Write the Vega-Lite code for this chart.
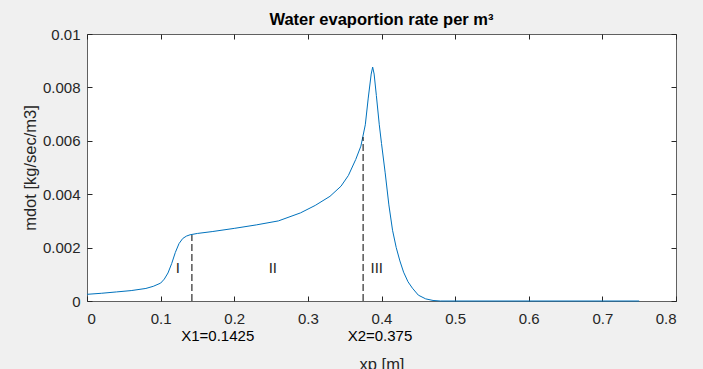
{
  "$schema": "https://vega.github.io/schema/vega-lite/v6.json",
  "autosize": "none",
  "width": 589,
  "height": 267,
  "padding": {"left": 87, "top": 34, "right": 27, "bottom": 68},
  "background": "#f0f0f0",
  "title": {"text": "Water evaportion rate per m³", "font": "Liberation Sans", "fontSize": 16.5, "fontWeight": "bold", "color": "#000000", "baseline": "bottom", "offset": -17, "anchor": "middle"},
  "config": {
    "view": {"fill": "#ffffff", "stroke": "#606060", "strokeWidth": 1},
    "axis": {"labelFont": "Liberation Sans", "titleFont": "Liberation Sans", "labelFontSize": 15, "titleFontSize": 16.5, "labelColor": "#262626", "titleColor": "#262626", "titleFontWeight": "normal", "tickColor": "#262626", "domain": false, "grid": false}
  },
  "datasets": {
    "curve": [
      {"xp": 0, "mdot": 0.00025},
      {"xp": 0.02, "mdot": 0.00029},
      {"xp": 0.04, "mdot": 0.00034},
      {"xp": 0.06, "mdot": 0.00039},
      {"xp": 0.08, "mdot": 0.00047},
      {"xp": 0.09, "mdot": 0.00055},
      {"xp": 0.1, "mdot": 0.00067},
      {"xp": 0.105, "mdot": 0.00082},
      {"xp": 0.11, "mdot": 0.00105},
      {"xp": 0.115, "mdot": 0.0014},
      {"xp": 0.12, "mdot": 0.00182},
      {"xp": 0.125, "mdot": 0.00215},
      {"xp": 0.13, "mdot": 0.00234},
      {"xp": 0.135, "mdot": 0.00243},
      {"xp": 0.14, "mdot": 0.00248},
      {"xp": 0.15, "mdot": 0.00253},
      {"xp": 0.17, "mdot": 0.0026},
      {"xp": 0.2, "mdot": 0.00272},
      {"xp": 0.23, "mdot": 0.00285},
      {"xp": 0.26, "mdot": 0.003},
      {"xp": 0.29, "mdot": 0.0033},
      {"xp": 0.31, "mdot": 0.00358},
      {"xp": 0.33, "mdot": 0.00392},
      {"xp": 0.345, "mdot": 0.0043},
      {"xp": 0.355, "mdot": 0.0047},
      {"xp": 0.365, "mdot": 0.0053},
      {"xp": 0.372, "mdot": 0.0058},
      {"xp": 0.378, "mdot": 0.0066},
      {"xp": 0.382, "mdot": 0.0076},
      {"xp": 0.386, "mdot": 0.0085},
      {"xp": 0.388, "mdot": 0.00876},
      {"xp": 0.39, "mdot": 0.0085},
      {"xp": 0.393, "mdot": 0.0077},
      {"xp": 0.397, "mdot": 0.0066},
      {"xp": 0.4, "mdot": 0.0059},
      {"xp": 0.405, "mdot": 0.0048},
      {"xp": 0.41, "mdot": 0.0036},
      {"xp": 0.415, "mdot": 0.00265},
      {"xp": 0.42, "mdot": 0.002},
      {"xp": 0.425, "mdot": 0.0015},
      {"xp": 0.43, "mdot": 0.00108},
      {"xp": 0.436, "mdot": 0.00072},
      {"xp": 0.442, "mdot": 0.00048},
      {"xp": 0.45, "mdot": 0.00022},
      {"xp": 0.46, "mdot": 0.00008},
      {"xp": 0.47, "mdot": 0.00002},
      {"xp": 0.48, "mdot": 0},
      {"xp": 0.75, "mdot": 0}
    ],
    "dashes": [
      {"xp": 0.1425, "y0": 0, "y1": 0.00247},
      {"xp": 0.375, "y0": 0, "y1": 0.00614}
    ],
    "regions": [
      {"xp": 0.1235, "mdot": 0.00124, "label": "I"},
      {"xp": 0.2524, "mdot": 0.00124, "label": "II"},
      {"xp": 0.3935, "mdot": 0.00124, "label": "III"}
    ],
    "marks": [
      {"xp": 0.128, "mdot": -0.00131, "label": "X1=0.1425"},
      {"xp": 0.354, "mdot": -0.00131, "label": "X2=0.375"}
    ]
  },
  "layer": [
    {
      "data": {"name": "curve"},
      "mark": {"type": "line", "color": "#0072BD", "strokeWidth": 1, "clip": false},
      "encoding": {
        "x": {"field": "xp", "type": "quantitative", "scale": {"domain": [0, 0.8], "nice": false, "zero": false},
          "axis": {"orient": "bottom", "values": [0, 0.1, 0.2, 0.3, 0.4, 0.5, 0.6, 0.7, 0.8], "format": "~g", "tickSize": -5, "labelPadding": 15, "title": "xp [m]", "titlePadding": 30}},
        "y": {"field": "mdot", "type": "quantitative", "scale": {"domain": [0, 0.01], "nice": false, "zero": false},
          "axis": {"orient": "left", "values": [0, 0.002, 0.004, 0.006, 0.008, 0.01], "format": "~g", "tickSize": -5, "labelPadding": 12, "title": "mdot [kg/sec/m3]", "titlePadding": 4}}
      }
    },
    {
      "data": {"name": "dashes"},
      "mark": {"type": "rule", "color": "#000000", "strokeWidth": 1, "strokeDash": [7, 3]},
      "encoding": {
        "x": {"field": "xp", "type": "quantitative", "axis": {"orient": "top", "values": [0, 0.1, 0.2, 0.3, 0.4, 0.5, 0.6, 0.7, 0.8], "labels": false, "tickSize": -5, "title": null}},
        "y": {"field": "y0", "type": "quantitative", "axis": {"orient": "right", "values": [0, 0.002, 0.004, 0.006, 0.008, 0.01], "labels": false, "tickSize": -5, "title": null}},
        "y2": {"field": "y1"}
      }
    },
    {
      "data": {"name": "regions"},
      "mark": {"type": "text", "font": "Liberation Sans", "fontSize": 15, "color": "#262626", "align": "center", "baseline": "middle"},
      "encoding": {
        "x": {"field": "xp", "type": "quantitative", "axis": null},
        "y": {"field": "mdot", "type": "quantitative", "axis": null},
        "text": {"field": "label"}
      }
    },
    {
      "data": {"name": "marks"},
      "mark": {"type": "text", "font": "Liberation Sans", "fontSize": 15, "color": "#000000", "align": "left", "baseline": "middle", "clip": false},
      "encoding": {
        "x": {"field": "xp", "type": "quantitative", "axis": null},
        "y": {"field": "mdot", "type": "quantitative", "axis": null},
        "text": {"field": "label"}
      }
    }
  ]
}
